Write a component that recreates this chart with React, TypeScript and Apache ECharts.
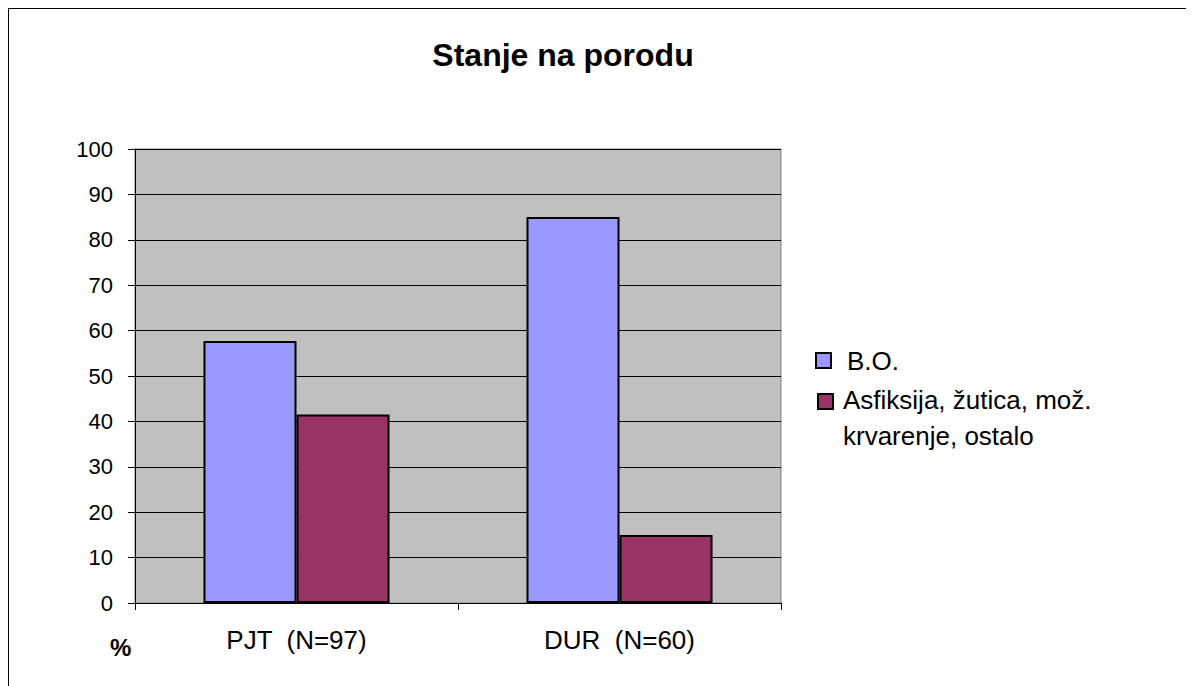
import React, { useEffect, useRef } from "react";
import * as echarts from "echarts";

const categories = ["PJT  (N=97)", "DUR  (N=60)"];
const seriesNames = ["B.O.", "Asfiksija, žutica, mož.\nkrvarenje, ostalo"];
const boValues = [57.7, 85];
const asfValues = [41.5, 15];
const colors = ["#9999FF", "#993366"];
const yTicks = { min: 0, max: 100, interval: 10 };

export default function App() {
  const ref = useRef<HTMLDivElement>(null);
  useEffect(() => {
    if (!ref.current) return;
    const chart = echarts.init(ref.current, undefined, { renderer: "svg" });
    const font = "Liberation Sans, Arial, sans-serif";
    chart.setOption({
      animation: false,
      backgroundColor: "#fff",
      graphic: [
        { type: "text", x: 554, y: 46, style: { text: "Stanje na porodu", fontFamily: font, fontSize: 32, fontWeight: "bold", fill: "#000", align: "center", verticalAlign: "middle" } },
        { type: "text", x: 101, y: 638, style: { text: "%", fontFamily: font, fontSize: 24, fontWeight: "bold", fill: "#000", verticalAlign: "middle" } },
        { type: "rect", shape: { x: 807, y: 344, width: 15, height: 15 }, style: { fill: colors[0], stroke: "#000", lineWidth: 2 } },
        { type: "text", x: 838, y: 352, style: { text: seriesNames[0], fontFamily: font, fontSize: 26, fill: "#000", verticalAlign: "middle" } },
        { type: "rect", shape: { x: 809, y: 385, width: 15, height: 15 }, style: { fill: colors[1], stroke: "#000", lineWidth: 2 } },
        { type: "text", x: 834, y: 373, style: { text: seriesNames[1], fontFamily: font, fontSize: 26, lineHeight: 36, fill: "#000", verticalAlign: "top" } },
      ],
      grid: { left: 126, top: 140, width: 646, height: 454, show: true, backgroundColor: "#C0C0C0", borderColor: "#808080", borderWidth: 1 },
      xAxis: {
        type: "category",
        data: categories,
        axisLine: { lineStyle: { color: "#000", width: 1 } },
        axisTick: { show: true, length: 7, lineStyle: { color: "#000" } },
        axisLabel: { fontFamily: font, fontSize: 26, color: "#000", margin: 24 },
      },
      yAxis: {
        type: "value",
        min: yTicks.min,
        max: yTicks.max,
        interval: yTicks.interval,
        axisLine: { show: true, lineStyle: { color: "#000", width: 1 } },
        axisTick: { show: true, length: 7, lineStyle: { color: "#000" } },
        axisLabel: { fontFamily: font, fontSize: 22, color: "#000", margin: 22 },
        splitLine: { show: true, lineStyle: { color: "#000", width: 1 } },
      },
      series: [
        {
          name: seriesNames[0],
          type: "bar",
          data: boValues,
          barGap: "0%",
          barCategoryGap: "42.4%",
          itemStyle: { color: colors[0], borderColor: "#000", borderWidth: 2 },
        },
        {
          name: seriesNames[1],
          type: "bar",
          data: asfValues,
          itemStyle: { color: colors[1], borderColor: "#000", borderWidth: 2 },
        },
      ],
    });
    return () => chart.dispose();
  }, []);
  return (
    <div
      ref={ref}
      style={{ width: 1177, height: 700, border: "1px solid #000", boxSizing: "content-box" }}
    />
  );
}
